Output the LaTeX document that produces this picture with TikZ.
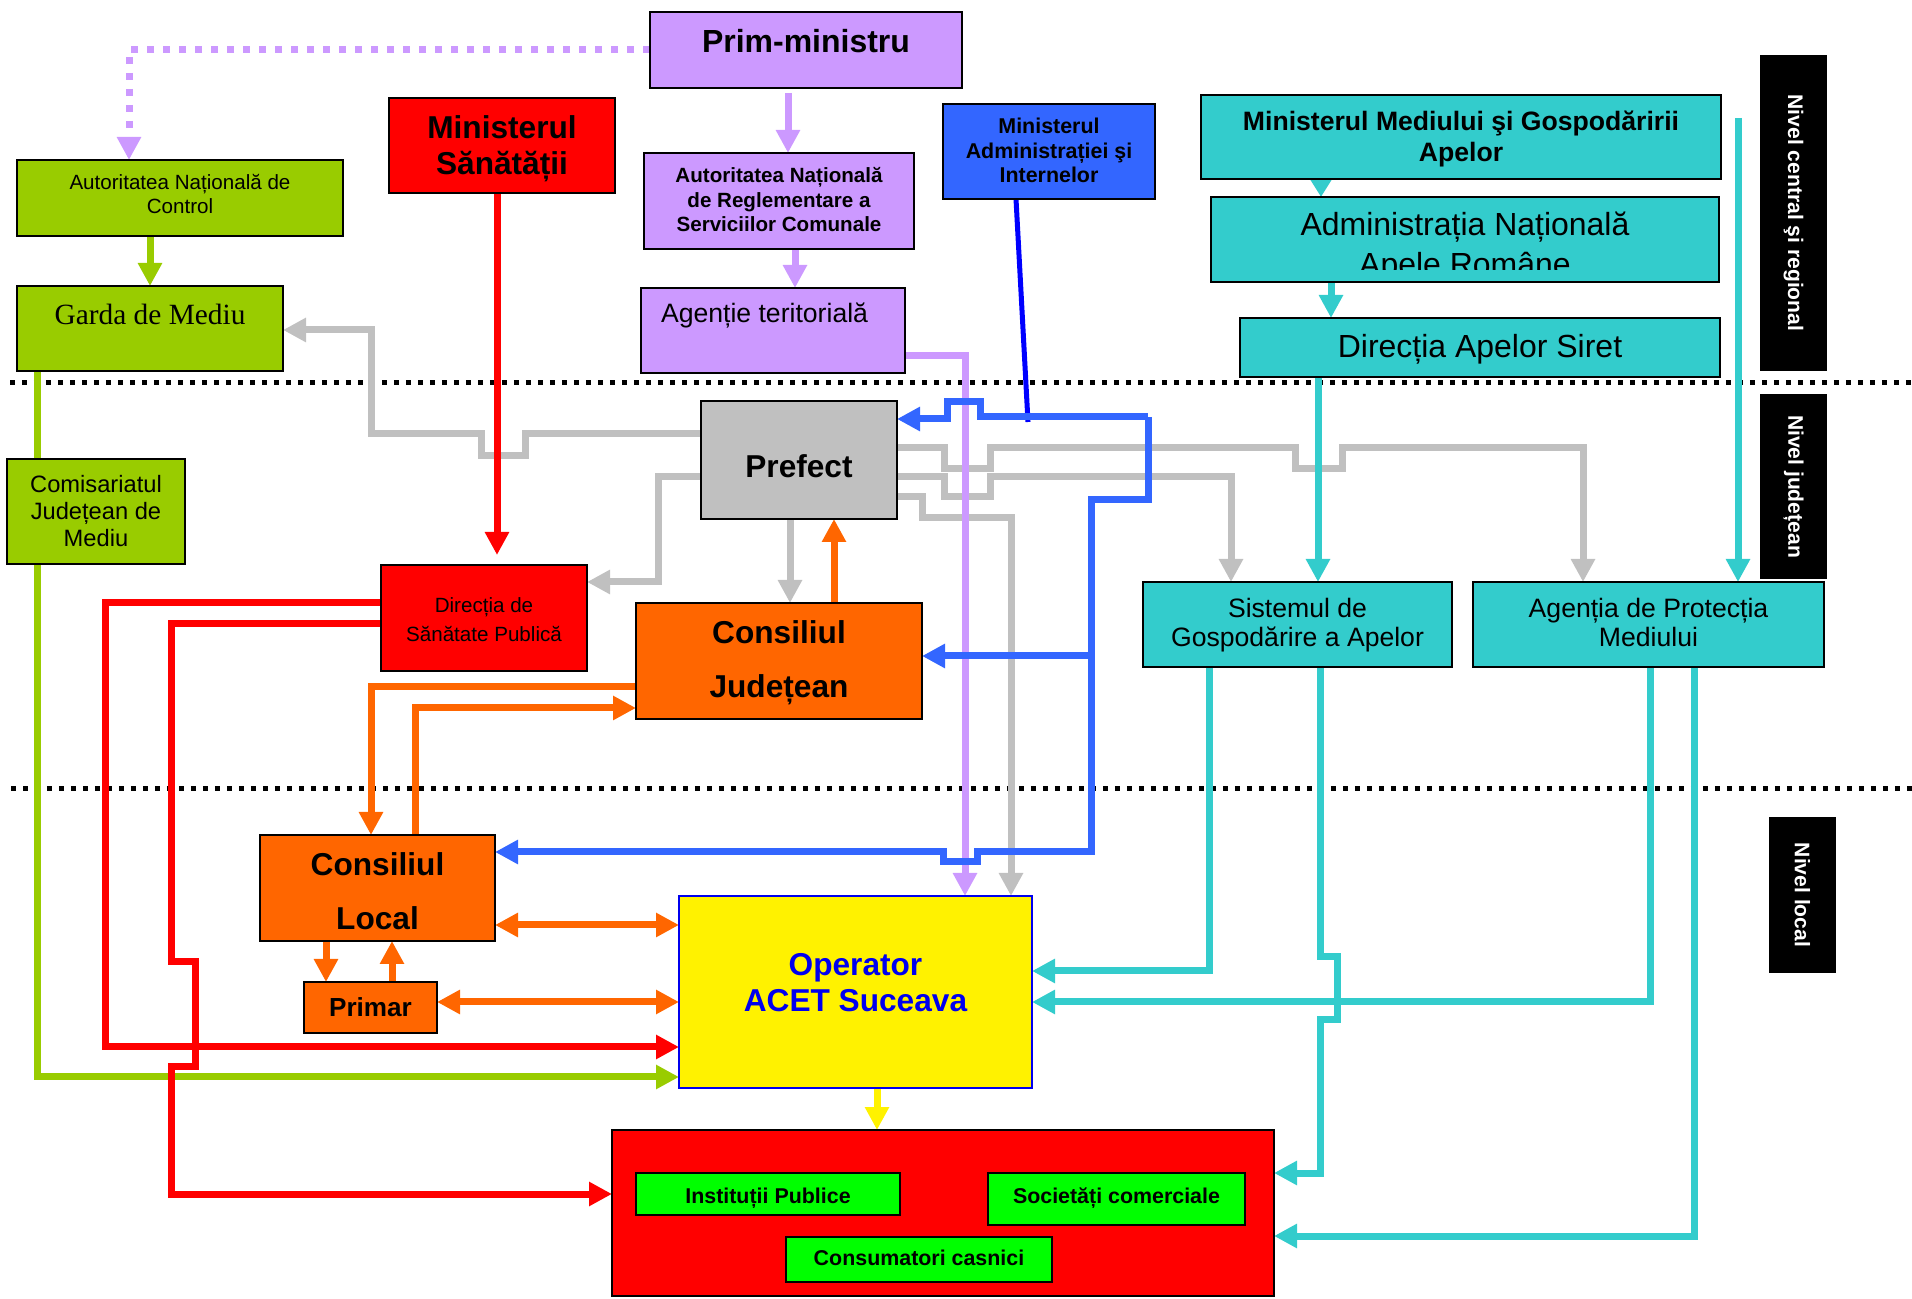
\documentclass[tikz,border=0pt]{standalone}
\usepackage{fontspec}
\setmainfont{Liberation Sans}
\newfontfamily\timesfnt{Liberation Serif}
\usetikzlibrary{arrows.meta,backgrounds}
\definecolor{lilac}{HTML}{CC99FF}
\definecolor{leaf}{HTML}{99CC00}
\definecolor{azure}{HTML}{3366FF}
\definecolor{deepblue}{HTML}{0000FF}
\definecolor{aqua}{HTML}{33CCCC}
\definecolor{silver}{HTML}{C0C0C0}
\definecolor{orng}{HTML}{FF6600}
\definecolor{brightgreen}{HTML}{00FF00}
\definecolor{opblue}{HTML}{0000EE}
\newcommand{\fsz}[2]{\fontsize{#1}{#2}\selectfont}
\tikzset{
  box/.style={draw,line width=0.2mm,inner sep=0pt,outer sep=0pt},
  lvlbar/.style={fill=black,text=white,inner sep=0pt,outer sep=0pt,rotate=-90,font=\fsz{6}{7}\bfseries},
  tx/.style={anchor=base,inner sep=0pt,outer sep=0pt,align=center},
  lvl/.style={line width=0.5mm,dash pattern=on 0.5mm off 0.7mm},
  cn/.style={line width=0.7mm},
  arw/.style={cn,-{Triangle[length=2.3mm,width=2.3mm]}},
  arw2/.style={cn,{Triangle[length=2.3mm,width=2.3mm]}-{Triangle[length=2.3mm,width=2.3mm]}}
}

\begin{document}
\begin{tikzpicture}[x=0.1mm,y=-0.1mm]
\useasboundingbox (0,0) rectangle (1912,1299);

% nivel central si regional (text nodes sit on the baseline of their last line)
\node[box,fill=lilac,minimum width=31.2mm,minimum height=7.6mm] (pm) at (806,50) {};
\node[tx,font=\fsz{9.1}{11}\bfseries] (pm-t) at (806,53) {Prim-ministru};
\node[box,fill=red,minimum width=22.6mm,minimum height=9.5mm] (ms) at (502,145.5) {};
\node[tx,font=\fsz{9}{10.5}\bfseries] (ms-t) at (502,175) {Ministerul\\Sănătății};
\node[box,fill=leaf,minimum width=32.6mm,minimum height=7.6mm] (anc) at (180,198) {};
\node[tx,font=\fsz{5.86}{7.1}] (anc-t) at (180,214) {Autoritatea Națională de\\Control};
\node[box,fill=leaf,minimum width=26.6mm,minimum height=8.5mm] (gm) at (150,328.5) {};
\node[tx,font=\fsz{8.36}{10}\timesfnt] (gm-t) at (150,325) {Garda de Mediu};
\node[box,fill=lilac,minimum width=27mm,minimum height=9.6mm] (anrsc) at (779,201) {};
\node[tx,font=\fsz{5.86}{7}\bfseries] (anrsc-t) at (779,232) {Autoritatea Națională\\de Reglementare a\\Serviciilor Comunale};
\node[box,fill=lilac,minimum width=26.4mm,minimum height=8.5mm] (at) at (773,330.5) {};
\node[tx,anchor=base west,font=\fsz{7.57}{9}] (at-t) at (661,323) {Agenție teritorială};
\node[box,fill=azure,minimum width=21.2mm,minimum height=9.5mm] (mai) at (1049,151.5) {};
\node[tx,font=\fsz{6.09}{7.1}\bfseries] (mai-t) at (1049,183) {Ministerul\\Administrației şi\\Internelor};
\node[box,fill=aqua,minimum width=52mm,minimum height=8.4mm] (mm) at (1461,137) {};
\node[tx,font=\fsz{7.57}{9.1}\bfseries] (mm-t) at (1461,162) {Ministerul Mediului şi Gospodăririi\\Apelor};
\node[box,fill=aqua,minimum width=50.8mm,minimum height=8.5mm] (anar) at (1465,239.5) {};
\begin{scope}
  \clip (1211,197) rectangle (1719,270);
  \node[tx,font=\fsz{9.1}{11.4}] (anar-t) at (1465,276) {Administrația Națională\\Apele Române};
\end{scope}
\node[box,fill=aqua,minimum width=48mm,minimum height=5.9mm] (das) at (1480,347.5) {};
\node[tx,font=\fsz{9.1}{11}] (das-t) at (1480,358) {Direcția Apelor Siret};

% nivel judetean
\node[box,fill=leaf,minimum width=17.8mm,minimum height=10.5mm] (cjm) at (96,511.5) {};
\node[tx,font=\fsz{6.74}{7.8}] (cjm-t) at (96,547) {Comisariatul\\Județean de\\Mediu};
\node[box,fill=silver,minimum width=19.6mm,minimum height=11.8mm] (pf) at (799,460) {};
\node[tx,font=\fsz{9}{11}\bfseries] (pf-t) at (799,478) {Prefect};
\node[box,fill=red,minimum width=20.6mm,minimum height=10.6mm] (dsp) at (484,618) {};
\node[tx,font=\fsz{5.86}{8.5}] (dsp-t) at (484,642) {Direcția de\\Sănătate Publică};
\node[box,fill=orng,minimum width=28.6mm,minimum height=11.6mm] (cj) at (779,661) {};
\node[tx,font=\fsz{9}{15.6}\bfseries] (cj-t) at (779,698) {Consiliul\\Județean};
\node[box,fill=aqua,minimum width=30.9mm,minimum height=8.5mm] (sga) at (1297.5,624.5) {};
\node[tx,font=\fsz{7.57}{8.5}] (sga-t) at (1297.5,647) {Sistemul de\\Gospodărire a Apelor};
\node[box,fill=aqua,minimum width=35.1mm,minimum height=8.5mm] (apm) at (1648.5,624.5) {};
\node[tx,font=\fsz{7.57}{8.5}] (apm-t) at (1648.5,647) {Agenția de Protecția\\Mediului};

% nivel local
\node[box,fill=orng,minimum width=23.5mm,minimum height=10.6mm] (cl) at (377.5,888) {};
\node[tx,font=\fsz{9}{15.4}\bfseries] (cl-t) at (377.5,930) {Consiliul\\Local};
\node[box,fill=orng,minimum width=13.3mm,minimum height=5.1mm] (pr) at (370.5,1007.5) {};
\node[tx,font=\fsz{7.43}{9}\bfseries] (pr-t) at (370.5,1017) {Primar};
\node[box,draw=opblue,fill=yellow,minimum width=35.3mm,minimum height=19.2mm] (op) at (855.5,992) {};
\node[tx,text=opblue,font=\fsz{9}{10.5}\bfseries] (op-t) at (855.5,1012) {Operator\\ACET Suceava};
\node[box,fill=red,minimum width=66.2mm,minimum height=16.6mm] (cons) at (943,1213) {};
\node[box,fill=brightgreen,minimum width=26.4mm,minimum height=4.2mm] (ip) at (768,1194) {};
\node[tx,font=\fsz{6.09}{7}\bfseries] (ip-t) at (768,1203) {Instituții Publice};
\node[box,fill=brightgreen,minimum width=25.7mm,minimum height=5.2mm] (sc) at (1116.5,1199) {};
\node[tx,font=\fsz{6.09}{7}\bfseries] (sc-t) at (1116.5,1203) {Societăți comerciale};
\node[box,fill=brightgreen,minimum width=26.6mm,minimum height=4.5mm] (cc) at (919,1259.5) {};
\node[tx,font=\fsz{6.09}{7}\bfseries] (cc-t) at (919,1265) {Consumatori casnici};

% etichete de nivel
\node[lvlbar,minimum width=31.6mm,minimum height=6.7mm] (lv1) at (1793.5,213) {Nivel central şi regional};
\node[lvlbar,minimum width=18.5mm,minimum height=6.7mm] (lv2) at (1793.5,486.5) {Nivel județean};
\node[lvlbar,minimum width=15.6mm,minimum height=6.7mm] (lv3) at (1802.5,895) {Nivel local};

\coordinate (mtop) at (1738,118);
\coordinate (mj) at (1028,422);
\coordinate (bj) at (1148,417);
\coordinate (bk) at (1091,656);

\begin{pgfonlayer}{background}
\draw[lvl] (10,383) -- (1912,383);
\draw[lvl] (11,789) -- (1912,789);

% prefect
\draw[arw,silver] (pf.west |- 0,434) -- (525,434) -- (525,456) -- (481,456) -- (481,434) -- (371,434) |- (gm.east |- 0,330);
\draw[arw,silver] (pf.west |- 0,477) -| (658,582) -- (dsp.east |- 0,582);
\draw[arw,silver] (pf.south -| 790,0) -- (cj.north -| 790,0);
\draw[arw,silver] (pf.east |- 0,448) -- (944,448) -- (944,469) -- (990,469) -- (990,448) -- (1295,448) -- (1295,469) -- (1342,469) -- (1342,448) -| (apm.north -| 1583,0);
\draw[arw,silver] (pf.east |- 0,477) -- (944,477) -- (944,497) -- (990,497) -- (990,477) -| (sga.north -| 1231,0);
\draw[arw,silver] (pf.east |- 0,497) -- (922,497) -- (922,518) -| (op.north -| 1011,0);

% prim-ministru
\draw[arw,lilac,dash pattern=on 0.75mm off 0.85mm] (pm.west) -| (anc.north -| 129,0);
\draw[arw,lilac] ([yshift=-0.5mm]pm.south -| 788,0) -- (anrsc.north -| 788,0);
\draw[arw,lilac] (anrsc.south -| 795,0) -- (at.north -| 795,0);
\draw[arw,lilac] (at.east |- 0,356) -| (op.north -| 965,0);

\draw[arw,leaf] (anc.south -| 150,0) -- (gm.north -| 150,0);
\draw[arw,leaf] (gm.south -| 37,0) |- (op.west |- 0,1077);

% sanatate
\draw[arw,red] (ms.south -| 497,0) -- ([yshift=1mm]dsp.north -| 497,0);
\draw[arw,red] (dsp.west |- 0,603) -| (105,1047) -- (op.west |- 0,1047);
\draw[arw,red] (dsp.west |- 0,624) -- (171,624) -- (171,962) -- (195,962) -- (195,1067) -- (171,1067) |- (cons.west |- 0,1194);

% consilii
\draw[arw,orng] (cj.north -| 834,0) -- (pf.south -| 834,0);
\draw[arw,orng] (cj.west |- 0,687) -| (cl.north -| 371,0);
\draw[arw,orng] (cl.north -| 415,0) |- (cj.west |- 0,708);
\draw[arw2,orng] (cl.east |- 0,925) -- (op.west |- 0,925);
\draw[arw2,orng] (pr.east |- 0,1002) -- (op.west |- 0,1002);
\draw[arw,orng] (cl.south -| 326,0) -- (pr.north -| 326,0);
\draw[arw,orng] (pr.north -| 392,0) -- (cl.south -| 392,0);

% ape
\draw[cn,aqua,-{Triangle[length=1.8mm,width=2.1mm]}] (mm.south -| 1321,0) -- (anar.north -| 1321,0);
\draw[arw,aqua] (anar.south -| 1331,0) -- (das.north -| 1331,0);
\draw[arw,aqua] (das.south -| 1318,0) -- (sga.north -| 1318,0);
\draw[arw,aqua] (mtop) -- (apm.north -| mtop);
\draw[arw,aqua] (sga.south -| 1209,0) |- (op.east |- 0,971);
\draw[arw,aqua] (apm.south -| 1650,0) |- (op.east |- 0,1002);
\draw[arw,aqua] (sga.south -| 1320,0) -- (1320,957) -- (1337,957) -- (1337,1020) -- (1320,1020) |- (cons.east |- 0,1173);
\draw[arw,aqua] (apm.south -| 1694,0) |- (cons.east |- 0,1236);

% interne
\draw[line width=0.5mm,deepblue] (mai.south -| 1016,0) -- (mj);
\draw[arw,azure] (bj) -- (980,417) -- (980,402) -- (947,402) -- (947,419) -- (pf.east |- 0,419);
\draw[arw,azure] (bj) -- (1148,500) -- (1091,500) -- (1091,852) -- (977,852) -- (977,862) -- (943,862) -- (943,852) -- (cl.east |- 0,852);
\draw[arw,azure] (bk) -- (cj.east |- bk);

\draw[arw,yellow] (op.south -| 877,0) -- (cons.north -| 877,0);
\end{pgfonlayer}
\end{tikzpicture}
\end{document}
